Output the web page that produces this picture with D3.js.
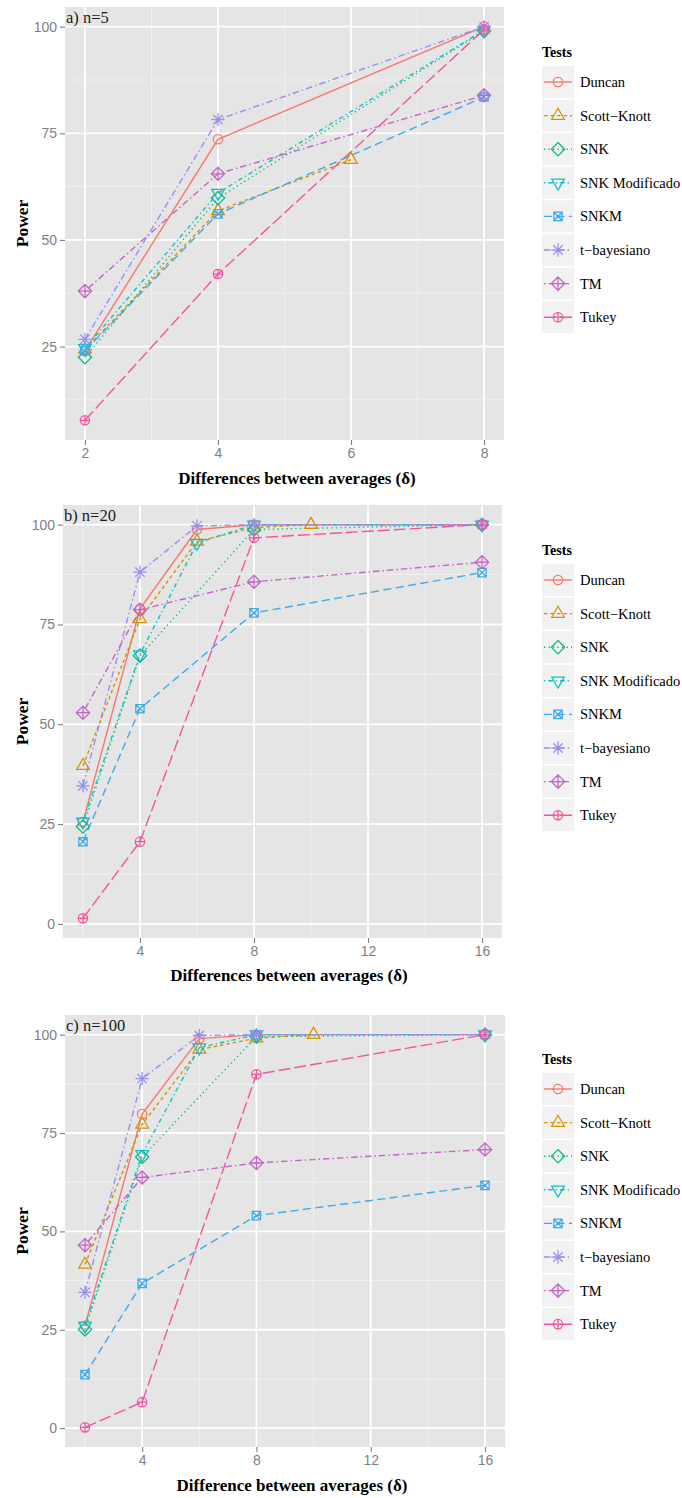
<!DOCTYPE html>
<html>
<head>
<meta charset="utf-8">
<script src="https://cdn.jsdelivr.net/npm/d3@7"></script>
<style>
  body { margin: 0; background: #ffffff; }
  svg { display: block; }
</style>
</head>
<body>
<div id="chart"></div>
<script>
// tests, in legend order
var tests = ["Duncan", "Scott\u2212Knott", "SNK", "SNK Modificado", "SNKM", "t\u2212bayesiano", "TM", "Tukey"];
var colors = ["#F8766D", "#D59200", "#0DB97E", "#12BFC4", "#3DAAEA", "#9590F0", "#C464C4", "#F2559F"];
var dashes = ["none", "3.5,3", "1.3,3.2", "1.3,3,4.5,3", "8,4.5", "6.5,3,1.5,3", "1.5,3,6.5,3", "12,4"];
var shapes = ["circle", "triangle", "diamond", "triangleDown", "squareX", "asterisk", "diamondPlus", "circlePlus"];

// power (%) by delta, one list per test, panel a) n=5
var powerN5 = [
  [[2, 24], [4, 73.6], [8, 100]],
  [[2, 24.3], [4, 56.8], [6, 68.8]],
  [[2, 22.5], [4, 59.8], [8, 99]],
  [[2, 24.6], [4, 61], [8, 99.2]],
  [[2, 24], [4, 56.1], [8, 83.5]],
  [[2, 26.7], [4, 78.2], [8, 100]],
  [[2, 38], [4, 65.5], [8, 83.9]],
  [[2, 7.7], [4, 42], [8, 99.3]]
];
// panel b) n=20
var powerN20 = [
  [[2, 25.5], [4, 78.9], [6, 98.8], [8, 100], [16, 100]],
  [[2, 39.6], [4, 76.4], [6, 95.8], [8, 99.3], [10, 100]],
  [[2, 24.4], [4, 67.2], [8, 98.8], [16, 100]],
  [[2, 25.6], [4, 67.5], [6, 95.4], [8, 100], [16, 100]],
  [[2, 20.6], [4, 53.9], [8, 77.9], [16, 88]],
  [[2, 34.6], [4, 88.1], [6, 99.7], [8, 100], [16, 100]],
  [[2, 52.9], [4, 78.7], [8, 85.7], [16, 90.6]],
  [[2, 1.4], [4, 20.6], [8, 96.7], [16, 100]]
];
// panel c) n=100
var powerN100 = [
  [[2, 26], [4, 79.8], [6, 99], [8, 100], [16, 100]],
  [[2, 41.6], [4, 77.2], [6, 96.2], [8, 99.1], [10, 100]],
  [[2, 25.1], [4, 68.9], [8, 99.5], [16, 100]],
  [[2, 26], [4, 69.6], [6, 96.7], [8, 100], [16, 100]],
  [[2, 13.6], [4, 36.8], [8, 54], [16, 61.7]],
  [[2, 34.5], [4, 88.8], [6, 99.8], [8, 100], [16, 100]],
  [[2, 46.5], [4, 63.7], [8, 67.4], [16, 70.8]],
  [[2, 0.2], [4, 6.6], [8, 89.9], [16, 100]]
];

var panelLabels = ["a) n=5", "b) n=20", "c) n=100"];
var xTitles = ["Differences between averages (\u03b4)", "Differences between averages (\u03b4)", "Difference between averages (\u03b4)"];
var xTicksA = [2, 4, 6, 8];
var xTicksBC = [4, 8, 12, 16];
var yTicks = [0, 25, 50, 75, 100];

var panels = [
  { data: powerN5, xTicks: xTicksA, left: 65, right: 504, top: 7, bottom: 440, titleX: 297, titleY: 484, legendTop: 57 },
  { data: powerN20, xTicks: xTicksBC, left: 63, right: 502, top: 505, bottom: 938, titleX: 289, titleY: 981, legendTop: 555 },
  { data: powerN100, xTicks: xTicksBC, left: 65, right: 505, top: 1015, bottom: 1447, titleX: 292, titleY: 1491, legendTop: 1064 }
];

var W = 682, H = 1498;
var svg = d3.select("#chart").append("svg").attr("width", W).attr("height", H);

var serif = "'Liberation Serif', 'DejaVu Serif', serif";
var sans = "'Liberation Sans', Arial, sans-serif";
var msize = 4.7;
var lineW = 1.4, markW = 1.25;

function shapePath(shape, s){
  var p = d3.path();
  function circ(r){ p.moveTo(r, 0); p.arc(0, 0, r, 0, 2 * Math.PI); }
  function seg(x1, y1, x2, y2){ p.moveTo(x1, y1); p.lineTo(x2, y2); }
  if(shape == "circle"){
    circ(s);
  } else if(shape == "triangle" || shape == "triangleDown"){
    var r = 1.555 * s, xc = 1.347 * s, yc = 0.778 * s;
    var f = shape == "triangle" ? 1 : -1;
    p.moveTo(0, -r * f); p.lineTo(xc, yc * f); p.lineTo(-xc, yc * f); p.closePath();
  } else if(shape == "diamond" || shape == "diamondPlus"){
    var d = 1.414 * s;
    p.moveTo(0, -d); p.lineTo(d, 0); p.lineTo(0, d); p.lineTo(-d, 0); p.closePath();
    if(shape == "diamondPlus"){ seg(-d, 0, d, 0); seg(0, -d, 0, d); }
  } else if(shape == "squareX"){
    var h = 0.886 * s;
    p.rect(-h, -h, 2 * h, 2 * h);
    seg(-h, -h, h, h); seg(-h, h, h, -h);
  } else if(shape == "asterisk"){
    var a = 1.414 * s, b = s;
    seg(-a, 0, a, 0); seg(0, -a, 0, a);
    seg(-b, -b, b, b); seg(-b, b, b, -b);
  } else if(shape == "circlePlus"){
    circ(s);
    seg(-s, 0, s, 0); seg(0, -s, 0, s);
  }
  return p.toString();
}

panels.forEach(function(pn, pi){
  var allX = [], allY = [];
  pn.data.forEach(function(series){
    series.forEach(function(d){ allX.push(d[0]); allY.push(d[1]); });
  });
  // ggplot style 5% expansion
  var xe = d3.extent(allX), ye = d3.extent(allY);
  var xpad = (xe[1] - xe[0]) * 0.05, ypad = (ye[1] - ye[0]) * 0.05;
  var x = d3.scaleLinear().domain([xe[0] - xpad, xe[1] + xpad]).range([pn.left, pn.right]);
  var y = d3.scaleLinear().domain([ye[0] - ypad, ye[1] + ypad]).range([pn.bottom, pn.top]);

  var g = svg.append("g");

  g.append("rect")
    .attr("x", pn.left).attr("y", pn.top)
    .attr("width", pn.right - pn.left).attr("height", pn.bottom - pn.top)
    .attr("fill", "#E5E5E5");

  var yt = yTicks.filter(function(v){ return v >= y.domain()[0] && v <= y.domain()[1]; });
  var xt = pn.xTicks;
  var ymin = [], xmin = [];
  for(var i = 0; i < yt.length; i++){
    var m = yt[i] - 12.5;
    if(m >= y.domain()[0]) ymin.push(m);
  }
  for(var j = 0; j < xt.length; j++){
    var mx = xt[j] - (xt[1] - xt[0]) / 2;
    if(mx >= x.domain()[0]) xmin.push(mx);
  }

  // minor grid
  g.selectAll(".yminor").data(ymin).enter().append("line")
    .attr("x1", pn.left).attr("x2", pn.right)
    .attr("y1", function(d){ return y(d); }).attr("y2", function(d){ return y(d); })
    .attr("stroke", "#F2F2F2").attr("stroke-width", 0.9);
  g.selectAll(".xminor").data(xmin).enter().append("line")
    .attr("y1", pn.top).attr("y2", pn.bottom)
    .attr("x1", function(d){ return x(d); }).attr("x2", function(d){ return x(d); })
    .attr("stroke", "#F2F2F2").attr("stroke-width", 0.9);
  // major grid
  g.selectAll(".ymajor").data(yt).enter().append("line")
    .attr("x1", pn.left).attr("x2", pn.right)
    .attr("y1", function(d){ return y(d); }).attr("y2", function(d){ return y(d); })
    .attr("stroke", "#FFFFFF").attr("stroke-width", 1.8);
  g.selectAll(".xmajor").data(xt).enter().append("line")
    .attr("y1", pn.top).attr("y2", pn.bottom)
    .attr("x1", function(d){ return x(d); }).attr("x2", function(d){ return x(d); })
    .attr("stroke", "#FFFFFF").attr("stroke-width", 1.8);

  // axes
  var yAxis = d3.axisLeft(y).tickValues(yt).tickSize(5).tickPadding(3).tickFormat(d3.format("d"));
  var xAxis = d3.axisBottom(x).tickValues(xt).tickSize(5).tickPadding(3).tickFormat(d3.format("d"));
  var ya = g.append("g").attr("transform", "translate(" + pn.left + ",0)").call(yAxis);
  var xa = g.append("g").attr("transform", "translate(0," + pn.bottom + ")").call(xAxis);
  [ya, xa].forEach(function(ax){
    ax.select(".domain").remove();
    ax.selectAll(".tick line").attr("stroke", "#7F7F7F").attr("stroke-width", 1.1);
    ax.selectAll(".tick text").attr("fill", "#7F7F7F").style("font-family", sans).style("font-size", "14px");
  });

  // lines then points
  var line = d3.line().x(function(d){ return x(d[0]); }).y(function(d){ return y(d[1]); });
  g.selectAll(".series").data(pn.data).enter().append("path")
    .attr("d", line)
    .attr("fill", "none")
    .attr("stroke", function(d, k){ return colors[k]; })
    .attr("stroke-width", lineW)
    .attr("stroke-dasharray", function(d, k){ return dashes[k]; });

  pn.data.forEach(function(series, k){
    g.selectAll(".pt" + k).data(series).enter().append("path")
      .attr("transform", function(d){ return "translate(" + x(d[0]) + "," + y(d[1]) + ")"; })
      .attr("d", shapePath(shapes[k], msize))
      .attr("fill", "none")
      .attr("stroke", colors[k])
      .attr("stroke-width", markW);
  });

  // panel tag
  g.append("text")
    .attr("x", pn.left + 1).attr("y", pn.top + 16)
    .style("font-family", serif).style("font-size", "16.5px")
    .attr("fill", "#1a1a1a")
    .text(panelLabels[pi]);

  // axis titles
  g.append("text")
    .attr("x", pn.titleX).attr("y", pn.titleY)
    .attr("text-anchor", "middle")
    .style("font-family", serif).style("font-size", "17px").style("font-weight", "bold")
    .text(xTitles[pi]);
  g.append("text")
    .attr("transform", "translate(28," + ((pn.top + pn.bottom) / 2) + ") rotate(-90)")
    .attr("text-anchor", "middle")
    .style("font-family", serif).style("font-size", "17.5px").style("font-weight", "bold")
    .text("Power");

  // legend
  var lg = g.append("g").attr("transform", "translate(542," + pn.legendTop + ")");
  lg.append("text").attr("x", 0).attr("y", 0)
    .style("font-family", serif).style("font-size", "14px").style("font-weight", "bold")
    .text("Tests");
  var keys = lg.selectAll(".key").data(tests).enter().append("g")
    .attr("transform", function(d, k){ return "translate(0," + (9 + k * 33.6) + ")"; });
  keys.append("rect").attr("width", 32).attr("height", 32).attr("fill", "#F2F2F2");
  keys.append("line")
    .attr("x1", 2).attr("x2", 30).attr("y1", 16).attr("y2", 16)
    .attr("stroke", function(d, k){ return colors[k]; })
    .attr("stroke-width", lineW)
    .attr("stroke-dasharray", function(d, k){ return dashes[k]; });
  keys.append("path")
    .attr("transform", "translate(16,16)")
    .attr("d", function(d, k){ return shapePath(shapes[k], msize); })
    .attr("fill", "none")
    .attr("stroke", function(d, k){ return colors[k]; })
    .attr("stroke-width", markW);
  keys.append("text")
    .attr("x", 38).attr("y", 21)
    .style("font-family", serif).style("font-size", "14.5px")
    .text(function(d){ return d; });
});
</script>
</body>
</html>
